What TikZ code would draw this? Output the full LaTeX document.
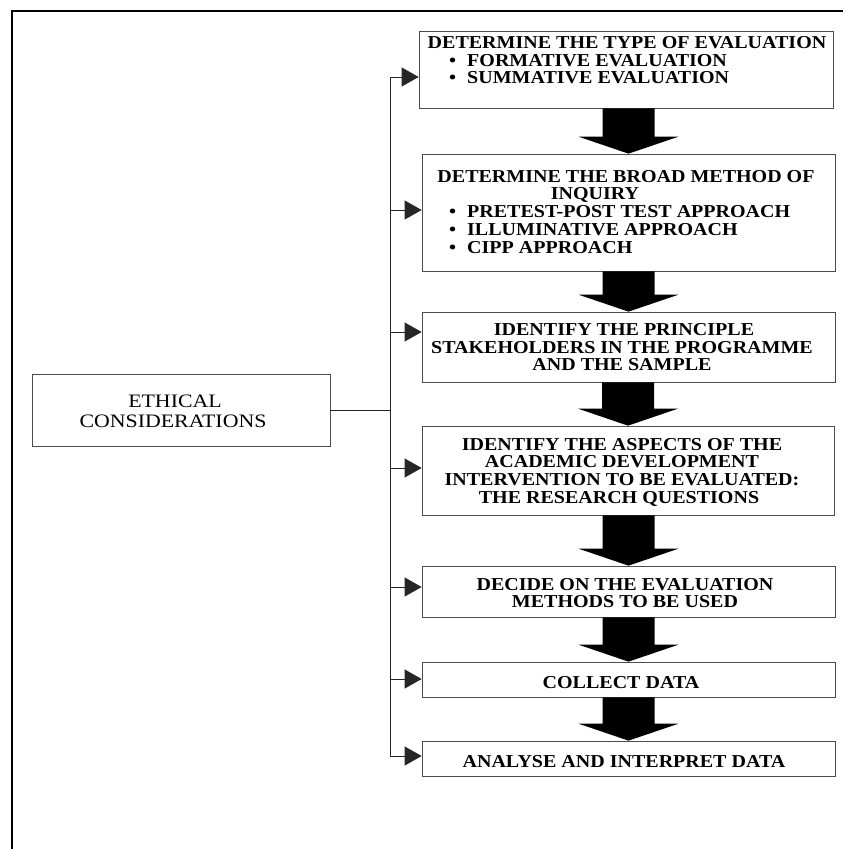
\documentclass[tikz,border=0pt]{standalone}
\usepackage{fontspec}
\setmainfont{Liberation Serif}
\newfontfamily\ethfont[FakeStretch=1.15]{Liberation Serif}
\newfontfamily\boxfont[FakeStretch=1.1]{Liberation Serif}
\usetikzlibrary{arrows.meta,calc}
\newcommand\bigarr[2]{%
  \fill[bigarrow] ([xshift=-26pt]#2.north |- #1.south) -- ([xshift=-26pt,yshift=17pt]#2.north)
    -- ([xshift=-50pt,yshift=17pt]#2.north) -- (#2.north)
    -- ([xshift=50pt,yshift=17pt]#2.north) -- ([xshift=26pt,yshift=17pt]#2.north)
    -- ([xshift=26pt]#2.north |- #1.south) -- cycle;}
\begin{document}
\begin{tikzpicture}[x=1pt,y=-1pt,
  box/.style={draw=black!70, line width=0.7pt, rectangle, inner sep=0pt},
  conn/.style={draw=black!85, line width=0.8pt},
  tip/.style={-{Triangle[length=17pt,width=19pt]}},
  bigarrow/.style={fill=black},
  txt/.style={anchor=base, inner sep=0pt, text height=12.5pt, text depth=0.5pt,
    font=\boxfont\bfseries\fontsize{18.2}{18}\selectfont},
  btxt/.style={txt, anchor=base west},
  etxt/.style={anchor=base, inner sep=0pt, text height=13pt, text depth=0.5pt,
    font=\ethfont\fontsize{19}{20}\selectfont},
  frame/.style={line width=2pt, black}]
\useasboundingbox (0,0) rectangle (843,849);
% outer frame
\coordinate (fbl) at (12,849);
\coordinate (ftl) at (12,11);
\coordinate (ftr) at (843,11);
\draw[frame] (fbl) -- (ftl) -- (ftr);
% boxes
\node[box, minimum width=414pt, minimum height=77pt] (b1) at (626,69.5) {};
\node[box, minimum width=413pt, minimum height=117pt] (b2) at (628.5,212.5) {};
\node[box, minimum width=413pt, minimum height=70pt] (b3) at (628.5,347) {};
\node[box, minimum width=412pt, minimum height=89pt] (b4) at (628,470.5) {};
\node[box, minimum width=413pt, minimum height=51pt] (b5) at (628.5,591.5) {};
\node[box, minimum width=413pt, minimum height=35pt] (b6) at (628.5,679.5) {};
\node[box, minimum width=413pt, minimum height=35pt] (b7) at (628.5,758.5) {};
\node[box, minimum width=298pt, minimum height=72pt] (eth) at (181,410) {};
% texts
\node[txt] (t1a) at (627,48) {DETERMINE THE TYPE OF EVALUATION};
\node[btxt] (t1b) at (449,66) {\textbullet\hspace{11pt}FORMATIVE EVALUATION};
\node[btxt] (t1c) at (449,83) {\textbullet\hspace{11pt}SUMMATIVE EVALUATION};
\node[txt] (t2a) at (626,182) {DETERMINE THE BROAD METHOD OF};
\node[txt] (t2b) at (595,199) {INQUIRY};
\node[btxt] (t2c) at (449,217) {\textbullet\hspace{11pt}PRETEST-POST TEST APPROACH};
\node[btxt] (t2d) at (449,235) {\textbullet\hspace{11pt}ILLUMINATIVE APPROACH};
\node[btxt] (t2e) at (449,253) {\textbullet\hspace{11pt}CIPP APPROACH};
\node[txt] (t3a) at (624,335) {IDENTIFY THE PRINCIPLE};
\node[txt] (t3b) at (622,353) {STAKEHOLDERS IN THE PROGRAMME};
\node[txt] (t3c) at (622,370) {AND THE SAMPLE};
\node[txt] (t4a) at (622,450) {IDENTIFY THE ASPECTS OF THE};
\node[txt] (t4b) at (622,467) {ACADEMIC DEVELOPMENT};
\node[txt] (t4c) at (622,485) {INTERVENTION TO BE EVALUATED:};
\node[txt] (t4d) at (619,503) {THE RESEARCH QUESTIONS};
\node[txt] (t5a) at (625,590) {DECIDE ON THE EVALUATION};
\node[txt] (t5b) at (625,607) {METHODS TO BE USED};
\node[txt] (t6) at (621,688) {COLLECT DATA};
\node[txt] (t7) at (624,767) {ANALYSE AND INTERPRET DATA};
\node[etxt] (tea) at (175,407) {ETHICAL};
\node[etxt] (teb) at (173,427) {CONSIDERATIONS};
% big flow arrows
\bigarr{b1}{b2}
\bigarr{b2}{b3}
\bigarr{b3}{b4}
\bigarr{b4}{b5}
\bigarr{b5}{b6}
\bigarr{b6}{b7}
% side connectors
\coordinate (a1) at (390,77);
\coordinate (a2) at (390,210);
\coordinate (a3) at (390,332);
\coordinate (a4) at (390,468);
\coordinate (a5) at (390,587);
\coordinate (a6) at (390,679);
\coordinate (a7) at (390,756);
\draw[conn] (a1) -- (a7);
\draw[conn] (eth.east) -- (eth.east -| a1);
\draw[conn,tip] (a1) -- (a1 -| b1.west);
\draw[conn,tip] (a2) -- (a2 -| b2.west);
\draw[conn,tip] (a3) -- (a3 -| b3.west);
\draw[conn,tip] (a4) -- (a4 -| b4.west);
\draw[conn,tip] (a5) -- (a5 -| b5.west);
\draw[conn,tip] (a6) -- (a6 -| b6.west);
\draw[conn,tip] (a7) -- (a7 -| b7.west);
\end{tikzpicture}
\end{document}
